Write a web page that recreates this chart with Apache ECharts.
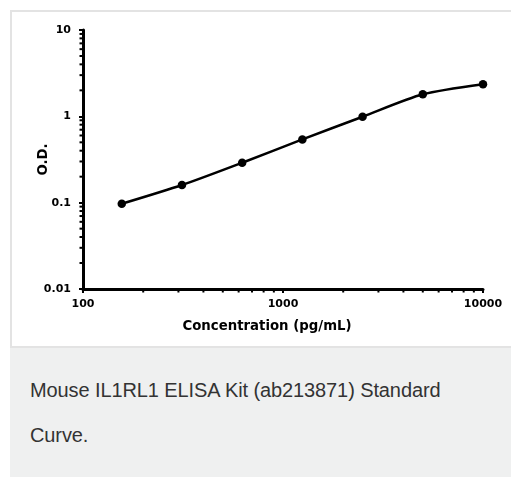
<!DOCTYPE html>
<html>
<head>
<meta charset="utf-8">
<script src="https://cdn.jsdelivr.net/npm/echarts@6/dist/echarts.min.js"></script>
<style>
  html, body { margin: 0; padding: 0; background: #ffffff; width: 511px; height: 477px; overflow: hidden; }
  #frame { position: absolute; left: 10px; top: 10px; width: 510px; height: 334px; border: 2px solid #e3e3e3; border-right: none; background: #fff; }
  #chart { position: absolute; left: 0; top: 0; width: 511px; height: 346px; }
  #caption { position: absolute; left: 10px; top: 346px; width: 501px; height: 130px; background: #eff0f0; border-top: 2px solid #e3e3e3;
    font-family: "Liberation Sans", Arial, sans-serif; font-size: 20px; color: #333; letter-spacing: -0.1px; }
  #caption .l1 { position: absolute; left: 20px; top: 31px; white-space: nowrap; }
  #caption .l2 { position: absolute; left: 20px; top: 76px; white-space: nowrap; }
</style>
</head>
<body>
<div id="frame"></div>
<div id="chart"></div>
<div id="caption"><div class="l1">Mouse IL1RL1 ELISA Kit (ab213871) Standard</div><div class="l2">Curve.</div></div>
<script>
// Data
var concentrations = [156.25, 312.5, 625, 1250, 2500, 5000, 10000];
var odValues = [0.097, 0.160, 0.29, 0.54, 0.99, 1.80, 2.36];
var xMinorTicks = [200, 300, 400, 500, 600, 700, 800, 900, 2000, 3000, 4000, 5000, 6000, 7000, 8000, 9000];
var yMinorTicks = [0.02, 0.03, 0.04, 0.05, 0.06, 0.07, 0.08, 0.09, 0.2, 0.3, 0.4, 0.5, 0.6, 0.7, 0.8, 0.9, 2, 3, 4, 5, 6, 7, 8, 9];
var xTitle = 'Concentration (pg/mL)';
var yTitle = 'O.D.';

var chart = echarts.init(document.getElementById('chart'), null, { renderer: 'canvas' });
var labelFont = { fontFamily: 'DejaVu Sans', fontWeight: 'bold', fontSize: 11, color: '#000' };
function plain(v) { return String(+v.toPrecision(3)); }

chart.setOption({
  animation: false,
  backgroundColor: 'transparent',
  grid: { left: 83, top: 30, width: 400, height: 259, containLabel: false },
  xAxis: {
    type: 'log', logBase: 10, min: 100, max: 10000,
    name: xTitle, nameLocation: 'middle', nameGap: 31, nameMoveOverlap: false,
    nameTextStyle: { fontFamily: 'DejaVu Sans', fontWeight: 'bold', fontSize: 13.3, color: '#000', padding: [0, 32, 0, 0] },
    axisLine: { show: true, lineStyle: { color: '#000', width: 3 } },
    axisTick: { show: true, length: 4, lineStyle: { color: '#000', width: 2 } },
    axisLabel: Object.assign({ margin: 10, formatter: plain }, labelFont),
    splitLine: { show: false }
  },
  yAxis: {
    type: 'log', logBase: 10, min: 0.01, max: 10,
    name: yTitle, nameLocation: 'middle', nameGap: 33, nameRotate: 90, nameMoveOverlap: false,
    nameTextStyle: { fontFamily: 'DejaVu Sans', fontWeight: 'bold', fontSize: 13.3, color: '#000' },
    axisLine: { show: true, lineStyle: { color: '#000', width: 3 } },
    axisTick: { show: true, length: 4, lineStyle: { color: '#000', width: 2 } },
    axisLabel: Object.assign({ margin: 12, formatter: plain }, labelFont),
    splitLine: { show: false }
  },
  series: [
    {
      type: 'custom', silent: true, clip: false, z: 1,
      data: xMinorTicks.map(function (v) { return [v, 0.01]; }),
      encode: { x: 0, y: 1 },
      renderItem: function (params, api) {
        var p = api.coord([api.value(0), api.value(1)]);
        return { type: 'line', shape: { x1: p[0], y1: p[1], x2: p[0], y2: p[1] + 3.5 }, style: { stroke: '#000', lineWidth: 2 } };
      }
    },
    {
      type: 'custom', silent: true, clip: false, z: 1,
      data: yMinorTicks.map(function (v) { return [100, v]; }),
      encode: { x: 0, y: 1 },
      renderItem: function (params, api) {
        var p = api.coord([api.value(0), api.value(1)]);
        return { type: 'line', shape: { x1: p[0] - 3.5, y1: p[1], x2: p[0], y2: p[1] }, style: { stroke: '#000', lineWidth: 2 } };
      }
    },
    {
      type: 'line', z: 3,
      data: concentrations.map(function (c, i) { return [c, odValues[i]]; }),
      smooth: 0.25,
      symbol: 'circle', symbolSize: 8.5,
      itemStyle: { color: '#000' },
      lineStyle: { color: '#000', width: 2.5 }
    }
  ]
});
</script>
</body>
</html>
